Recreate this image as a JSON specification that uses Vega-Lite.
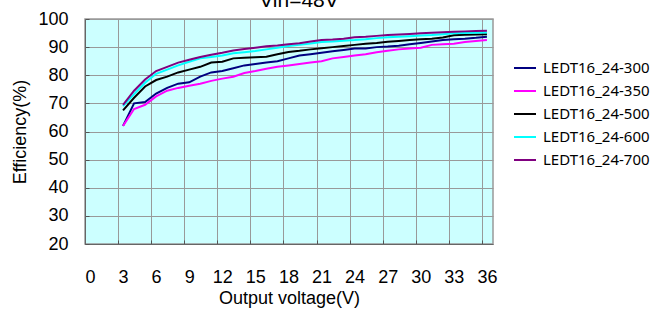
{
  "$schema": "https://vega.github.io/schema/vega-lite/v6.json",
  "autosize": "none",
  "width": 408,
  "height": 225,
  "padding": {"left": 85, "top": 19, "right": 177, "bottom": 74},
  "background": "white",
  "title": {"text": "Vin=48V", "font": "Liberation Sans", "fontSize": 21, "fontWeight": "normal", "color": "black", "baseline": "alphabetic", "offset": 0, "dy": 18, "dx": 10, "anchor": "middle"},
  "config": {
    "view": {"fill": "#CCFFFF", "stroke": "#999999", "strokeWidth": 1.5},
    "axis": {"labelFont": "Liberation Sans", "titleFont": "Liberation Sans", "labelFontSize": 18, "titleFontSize": 18, "titleFontWeight": "normal", "labelColor": "black", "titleColor": "black", "gridColor": "#999999", "gridWidth": 1, "gridOpacity": 1, "domainColor": "#666666", "tickColor": "#555555", "tickSize": -4}
  },
  "data": {"values": [
    {"v": 3, "LEDT16_24-300": 62, "LEDT16_24-350": 62, "LEDT16_24-500": 67.5, "LEDT16_24-600": 69, "LEDT16_24-700": 69.5},
    {"v": 4, "LEDT16_24-300": 70, "LEDT16_24-350": 68, "LEDT16_24-500": 72, "LEDT16_24-600": 73.3, "LEDT16_24-700": 74.5},
    {"v": 5, "LEDT16_24-300": 70.5, "LEDT16_24-350": 69.5, "LEDT16_24-500": 76, "LEDT16_24-600": 77.3, "LEDT16_24-700": 78.5},
    {"v": 6, "LEDT16_24-300": 73.5, "LEDT16_24-350": 72.5, "LEDT16_24-500": 78.3, "LEDT16_24-600": 80.5, "LEDT16_24-700": 81.5},
    {"v": 7, "LEDT16_24-300": 75.5, "LEDT16_24-350": 74.5, "LEDT16_24-500": 79.5, "LEDT16_24-600": 82, "LEDT16_24-700": 83},
    {"v": 8, "LEDT16_24-300": 77, "LEDT16_24-350": 75.5, "LEDT16_24-500": 81, "LEDT16_24-600": 83.5, "LEDT16_24-700": 84.5},
    {"v": 9, "LEDT16_24-300": 77.5, "LEDT16_24-350": 76.3, "LEDT16_24-500": 82, "LEDT16_24-600": 84.8, "LEDT16_24-700": 85.5},
    {"v": 10, "LEDT16_24-300": 79.5, "LEDT16_24-350": 77, "LEDT16_24-500": 83, "LEDT16_24-600": 86, "LEDT16_24-700": 86.5},
    {"v": 11, "LEDT16_24-300": 81, "LEDT16_24-350": 78, "LEDT16_24-500": 84.5, "LEDT16_24-600": 86.5, "LEDT16_24-700": 87.3},
    {"v": 12, "LEDT16_24-300": 81.5, "LEDT16_24-350": 78.8, "LEDT16_24-500": 84.8, "LEDT16_24-600": 87, "LEDT16_24-700": 88},
    {"v": 13, "LEDT16_24-300": 82.5, "LEDT16_24-350": 79.5, "LEDT16_24-500": 86, "LEDT16_24-600": 87.8, "LEDT16_24-700": 88.8},
    {"v": 14, "LEDT16_24-300": 83.5, "LEDT16_24-350": 80.8, "LEDT16_24-500": 86.2, "LEDT16_24-600": 88.2, "LEDT16_24-700": 89.3},
    {"v": 15, "LEDT16_24-300": 84, "LEDT16_24-350": 81.5, "LEDT16_24-500": 86.4, "LEDT16_24-600": 88.6, "LEDT16_24-700": 89.8},
    {"v": 16, "LEDT16_24-300": 84.5, "LEDT16_24-350": 82.3, "LEDT16_24-500": 86.6, "LEDT16_24-600": 89.2, "LEDT16_24-700": 90.3},
    {"v": 17, "LEDT16_24-300": 85, "LEDT16_24-350": 83, "LEDT16_24-500": 87.5, "LEDT16_24-600": 89.8, "LEDT16_24-700": 90.6},
    {"v": 18, "LEDT16_24-300": 86, "LEDT16_24-350": 83.5, "LEDT16_24-500": 88.3, "LEDT16_24-600": 90.4, "LEDT16_24-700": 91},
    {"v": 19, "LEDT16_24-300": 87, "LEDT16_24-350": 84, "LEDT16_24-500": 88.7, "LEDT16_24-600": 90.8, "LEDT16_24-700": 91.4},
    {"v": 20, "LEDT16_24-300": 87.5, "LEDT16_24-350": 84.5, "LEDT16_24-500": 89.2, "LEDT16_24-600": 91.3, "LEDT16_24-700": 92},
    {"v": 21, "LEDT16_24-300": 88, "LEDT16_24-350": 85, "LEDT16_24-500": 89.6, "LEDT16_24-600": 91.8, "LEDT16_24-700": 92.5},
    {"v": 22, "LEDT16_24-300": 88.5, "LEDT16_24-350": 86, "LEDT16_24-500": 90, "LEDT16_24-600": 92, "LEDT16_24-700": 92.7},
    {"v": 23, "LEDT16_24-300": 89, "LEDT16_24-350": 86.5, "LEDT16_24-500": 90.4, "LEDT16_24-600": 92.3, "LEDT16_24-700": 93},
    {"v": 24, "LEDT16_24-300": 89.5, "LEDT16_24-350": 87, "LEDT16_24-500": 90.8, "LEDT16_24-600": 92.5, "LEDT16_24-700": 93.5},
    {"v": 25, "LEDT16_24-300": 89.5, "LEDT16_24-350": 87.5, "LEDT16_24-500": 91.2, "LEDT16_24-600": 92.8, "LEDT16_24-700": 93.7},
    {"v": 26, "LEDT16_24-300": 90, "LEDT16_24-350": 88.2, "LEDT16_24-500": 91.5, "LEDT16_24-600": 93.2, "LEDT16_24-700": 94},
    {"v": 27, "LEDT16_24-300": 90.2, "LEDT16_24-350": 88.7, "LEDT16_24-500": 91.9, "LEDT16_24-600": 93.5, "LEDT16_24-700": 94.3},
    {"v": 28, "LEDT16_24-300": 90.5, "LEDT16_24-350": 89.2, "LEDT16_24-500": 92.2, "LEDT16_24-600": 93.7, "LEDT16_24-700": 94.5},
    {"v": 29, "LEDT16_24-300": 91, "LEDT16_24-350": 89.5, "LEDT16_24-500": 92.5, "LEDT16_24-600": 93.9, "LEDT16_24-700": 94.7},
    {"v": 30, "LEDT16_24-300": 91.5, "LEDT16_24-350": 89.8, "LEDT16_24-500": 92.8, "LEDT16_24-600": 94.1, "LEDT16_24-700": 94.9},
    {"v": 31, "LEDT16_24-300": 92, "LEDT16_24-350": 90.8, "LEDT16_24-500": 93, "LEDT16_24-600": 94.3, "LEDT16_24-700": 95.1},
    {"v": 32, "LEDT16_24-300": 92.5, "LEDT16_24-350": 91, "LEDT16_24-500": 93.4, "LEDT16_24-600": 94.6, "LEDT16_24-700": 95.3},
    {"v": 33, "LEDT16_24-300": 92.8, "LEDT16_24-350": 91.2, "LEDT16_24-500": 94.2, "LEDT16_24-600": 94.9, "LEDT16_24-700": 95.5},
    {"v": 34, "LEDT16_24-300": 93, "LEDT16_24-350": 91.8, "LEDT16_24-500": 94.4, "LEDT16_24-600": 95, "LEDT16_24-700": 95.6},
    {"v": 35, "LEDT16_24-300": 93.3, "LEDT16_24-350": 92.2, "LEDT16_24-500": 94.5, "LEDT16_24-600": 95.1, "LEDT16_24-700": 95.7},
    {"v": 36, "LEDT16_24-300": 93.7, "LEDT16_24-350": 92.5, "LEDT16_24-500": 94.6, "LEDT16_24-600": 95.2, "LEDT16_24-700": 95.8}
  ]},
  "transform": [{"fold": ["LEDT16_24-300", "LEDT16_24-350", "LEDT16_24-500", "LEDT16_24-600", "LEDT16_24-700"], "as": ["series", "eff"]}],
  "mark": {"type": "line", "strokeWidth": 2, "clip": true},
  "encoding": {
    "x": {"field": "v", "type": "quantitative", "scale": {"domain": [-0.45, 36.55], "nice": false, "zero": false},
      "axis": {"title": "Output voltage(V)", "values": [0, 3, 6, 9, 12, 15, 18, 21, 24, 27, 30, 33, 36], "tickOffset": -5, "labelOffset": 5, "labelPadding": 28, "titlePadding": 3, "labelFlush": false, "labelOverlap": false, "grid": true}},
    "y": {"field": "eff", "type": "quantitative", "scale": {"domain": [20, 100], "nice": false, "zero": false},
      "axis": {"title": "Efficiency(%)", "values": [20, 30, 40, 50, 60, 70, 80, 90, 100], "labelPadding": 21, "titlePadding": 8, "labelFlush": false, "labelOverlap": false, "grid": true}},
    "color": {"field": "series", "type": "nominal",
      "scale": {"domain": ["LEDT16_24-300", "LEDT16_24-350", "LEDT16_24-500", "LEDT16_24-600", "LEDT16_24-700"], "range": ["#000080", "#FF00FF", "#000000", "#00FFFF", "#800080"]},
      "legend": {"title": null, "orient": "none", "legendX": 428, "legendY": 37, "symbolType": "stroke", "symbolSize": 484, "symbolStrokeWidth": 2, "labelFont": "Noto Sans", "labelFontSize": 15, "labelColor": "black", "labelOffset": 6, "rowPadding": 3, "padding": 0}}
  }
}
